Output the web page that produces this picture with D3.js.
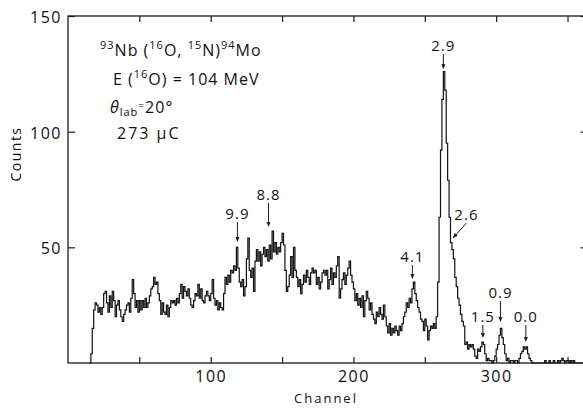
<!DOCTYPE html>
<html><head><meta charset="utf-8">
<script src="https://cdn.jsdelivr.net/npm/d3@7/dist/d3.min.js"></script>
<style>
html,body{margin:0;padding:0;background:#fff;}
svg{display:block;}
text{font-family:"Open Sans","DejaVu Sans",sans-serif;font-weight:400;fill:#111;}
</style></head><body>
<svg id="c" width="583" height="409"></svg>
<script>
// ---- data ----
const firstChannel = 15;
const counts = [
 0,4,15,23,26,25,22,24,21,24,30,31,26,22,29,24,31,27,20,25,27,23,20,18,21,23,25,26,22,28,
 36,30,24,27,22,27,23,27,24,28,24,26,29,32,33,37,34,35,30,27,21,26,22,21,25,20,24,27,26,27,
 25,28,26,30,34,28,33,31,29,32,28,25,24,27,30,29,34,28,32,27,26,29,31,29,27,30,36,28,25,27,
 23,26,24,23,30,37,34,38,35,40,39,42,40,50,41,35,33,36,29,33,45,54,40,37,41,31,44,49,44,48,
 42,47,50,46,49,44,51,45,57,48,52,47,50,48,52,56,51,40,31,33,38,46,37,50,40,37,33,36,30,34,
 38,35,40,37,34,39,41,39,40,34,37,32,35,39,40,38,40,32,36,41,34,39,37,42,46,28,32,36,39,34,
 38,41,44,38,35,32,27,30,25,28,24,29,20,27,31,28,23,26,21,19,17,22,20,24,21,19,25,20,16,13,
 17,12,15,13,16,14,12,16,14,17,20,22,26,24,28,26,32,35,30,27,24,22,19,18,14,19,16,10,14,16,
 15,17,15,20,35,63,92,114,126,118,95,79,63,52,49,45,37,33,28,25,21,18,16,8,9,6,8,7,8,6,
 3,2,6,5,7,9,8,4,1,2,1,1,0,1,3,6,8,12,15,11,8,4,1,2,0,1,1,0,1,1,
 0,2,4,5,7,6,7,4,2,1,0,0,0,0,0,0,0,0,0,1,0,0,1,0,0,1,0,0,1,0,
 1,2,1,0,1,1,0,1,0,1,0,0,0,0,0,0
];
const xTickValues = [50,100,150,200,250,300,350];
const xTickLabels = [100,200,300];
const yTickValues = [50,100,150];
const peakLabels   = ["2.9","2.6","4.1","9.9","8.8","1.5","0.9","0.0"];
const peakChannels = [263, 269.7, 241.3, 118.7, 140.5, 290.7, 303, 320.8];
const peakTips     = [127, 54, 36.3, 52.3, 58.8, 10.8, 17.7, 9.1];

// ---- layout ----
const svg = d3.select("#c");
const x = d3.scaleLinear().domain([0, 364]).range([68, 587.5]);
const y = d3.scaleLinear().domain([0, 150]).range([363, 16]);
const ink = "#1c1c1c";

const g = svg.append("g");
g.append("rect").attr("x", x(0)).attr("y", y(150))
  .attr("width", x(364) - x(0)).attr("height", y(0) - y(150))
  .attr("fill", "none").attr("stroke", ink).attr("stroke-width", 1.3);

// bottom axis
const ax = g.append("g").attr("transform", `translate(0,${y(0)})`)
  .call(d3.axisBottom(x).tickValues(xTickValues).tickSize(-6).tickSizeOuter(0)
    .tickFormat(d => xTickLabels.includes(d) ? d : ""));
ax.select(".domain").remove();
ax.selectAll(".tick line").attr("stroke", ink).attr("stroke-width", 1.2);
ax.selectAll(".tick text").attr("y", 19).attr("dy", null)
  .style("font-size", "16px").style("letter-spacing", "1.5px").attr("fill", "#111");

// top axis
const at = g.append("g").attr("transform", `translate(0,${y(150)})`)
  .call(d3.axisTop(x).tickValues(xTickValues).tickSize(-6).tickSizeOuter(0).tickFormat(""));
at.select(".domain").remove();
at.selectAll(".tick line").attr("stroke", ink).attr("stroke-width", 1.2);

// left axis
const al = g.append("g").attr("transform", `translate(${x(0)},0)`)
  .call(d3.axisLeft(y).tickValues(yTickValues).tickSize(-7).tickSizeOuter(0).tickPadding(6));
al.select(".domain").remove();
al.selectAll(".tick line").attr("stroke", ink).attr("stroke-width", 1.2);
al.selectAll(".tick text").attr("dy", "0.4em")
  .style("font-size", "16px").style("letter-spacing", "1.5px").attr("fill", "#111");

// right axis
const ar = g.append("g").attr("transform", `translate(${x(364)},0)`)
  .call(d3.axisRight(y).tickValues(yTickValues).tickSize(-7).tickSizeOuter(0).tickFormat(""));
ar.select(".domain").remove();
ar.selectAll(".tick line").attr("stroke", ink).attr("stroke-width", 1.2);

// histogram
const pts = counts.map((c, i) => [firstChannel + i, c]);
pts.push([firstChannel + counts.length, 0]);
const line = d3.line().x(d => x(d[0])).y(d => y(d[1])).curve(d3.curveStepAfter);
g.append("path").attr("d", line(pts)).attr("fill", "none")
  .attr("stroke", "#111").attr("stroke-width", 1.2);

// axis titles
svg.append("text").attr("x", 326).attr("y", 403).attr("text-anchor", "middle")
  .style("font-size", "13px").style("letter-spacing", "2px").text("Channel");
svg.append("text").attr("transform", "translate(21,154) rotate(-90)").attr("text-anchor", "middle")
  .style("font-size", "14px").style("letter-spacing", "1.5px").text("Counts");

// reaction info
function sup(t, s, txt) { t.append("tspan").attr("dy", -7).style("font-size", "11px").text(s);
  t.append("tspan").attr("dy", 7).text(txt); }
const t1 = svg.append("text").attr("x", 100).attr("y", 56).style("font-size", "16px").style("letter-spacing", "1px");
t1.append("tspan").attr("dy", -7).style("font-size", "11px").text("93");
t1.append("tspan").attr("dy", 7).text("Nb (");
sup(t1, "16", "O, ");
sup(t1, "15", "N)");
sup(t1, "94", "Mo");

const t2 = svg.append("text").attr("x", 113).attr("y", 85).style("font-size", "16px").style("letter-spacing", "1px");
t2.append("tspan").text("E (");
sup(t2, "16", "O) = 104  MeV");

const t3 = svg.append("text").attr("x", 110).attr("y", 113).style("font-size", "16px").style("letter-spacing", "1px");
t3.append("tspan").style("font-style", "italic").text("θ");
t3.append("tspan").attr("dy", 3).style("font-size", "11px").text("lab");
t3.append("tspan").attr("dy", -7).style("font-size", "10px").text("=");
t3.append("tspan").attr("dy", 4).text("20°");

svg.append("text").attr("x", 117).attr("y", 139).style("font-size", "16px").style("letter-spacing", "2px")
  .text("273 μC");

// peak annotations
const arrowLen = {"2.9":15, "4.1":14, "9.9":20, "8.8":24, "1.5":13, "0.9":21, "0.0":17};
peakLabels.forEach((lab, i) => {
  const px = x(peakChannels[i]), py = y(peakTips[i]);
  if (lab === "2.6") {
    const sx = px + 13.5, sy = py - 15;
    g.append("line").attr("x1", sx).attr("y1", sy).attr("x2", px).attr("y2", py)
      .attr("stroke", ink).attr("stroke-width", 1);
    const ang = Math.atan2(py - sy, px - sx);
    const hl = 5, hw = 2;
    const bx = px - hl * Math.cos(ang), by = py - hl * Math.sin(ang);
    g.append("path").attr("d", `M${px},${py}L${bx - hw * Math.sin(ang)},${by + hw * Math.cos(ang)}L${bx + hw * Math.sin(ang)},${by - hw * Math.cos(ang)}Z`).attr("fill", ink);
    svg.append("text").attr("x", sx).attr("y", sy - 3).attr("text-anchor", "middle")
      .style("font-size", "15px").style("letter-spacing", "1px").text(lab);
    return;
  }
  const L = arrowLen[lab];
  g.append("line").attr("x1", px).attr("y1", py - L).attr("x2", px).attr("y2", py - 3)
    .attr("stroke", ink).attr("stroke-width", 1);
  g.append("path").attr("d", `M${px},${py}L${px - 2},${py - 5}L${px + 2},${py - 5}Z`).attr("fill", ink);
  svg.append("text").attr("x", px).attr("y", py - L - 3).attr("text-anchor", "middle")
    .style("font-size", "15px").style("letter-spacing", "1px").text(lab);
});
</script>
</body></html>
